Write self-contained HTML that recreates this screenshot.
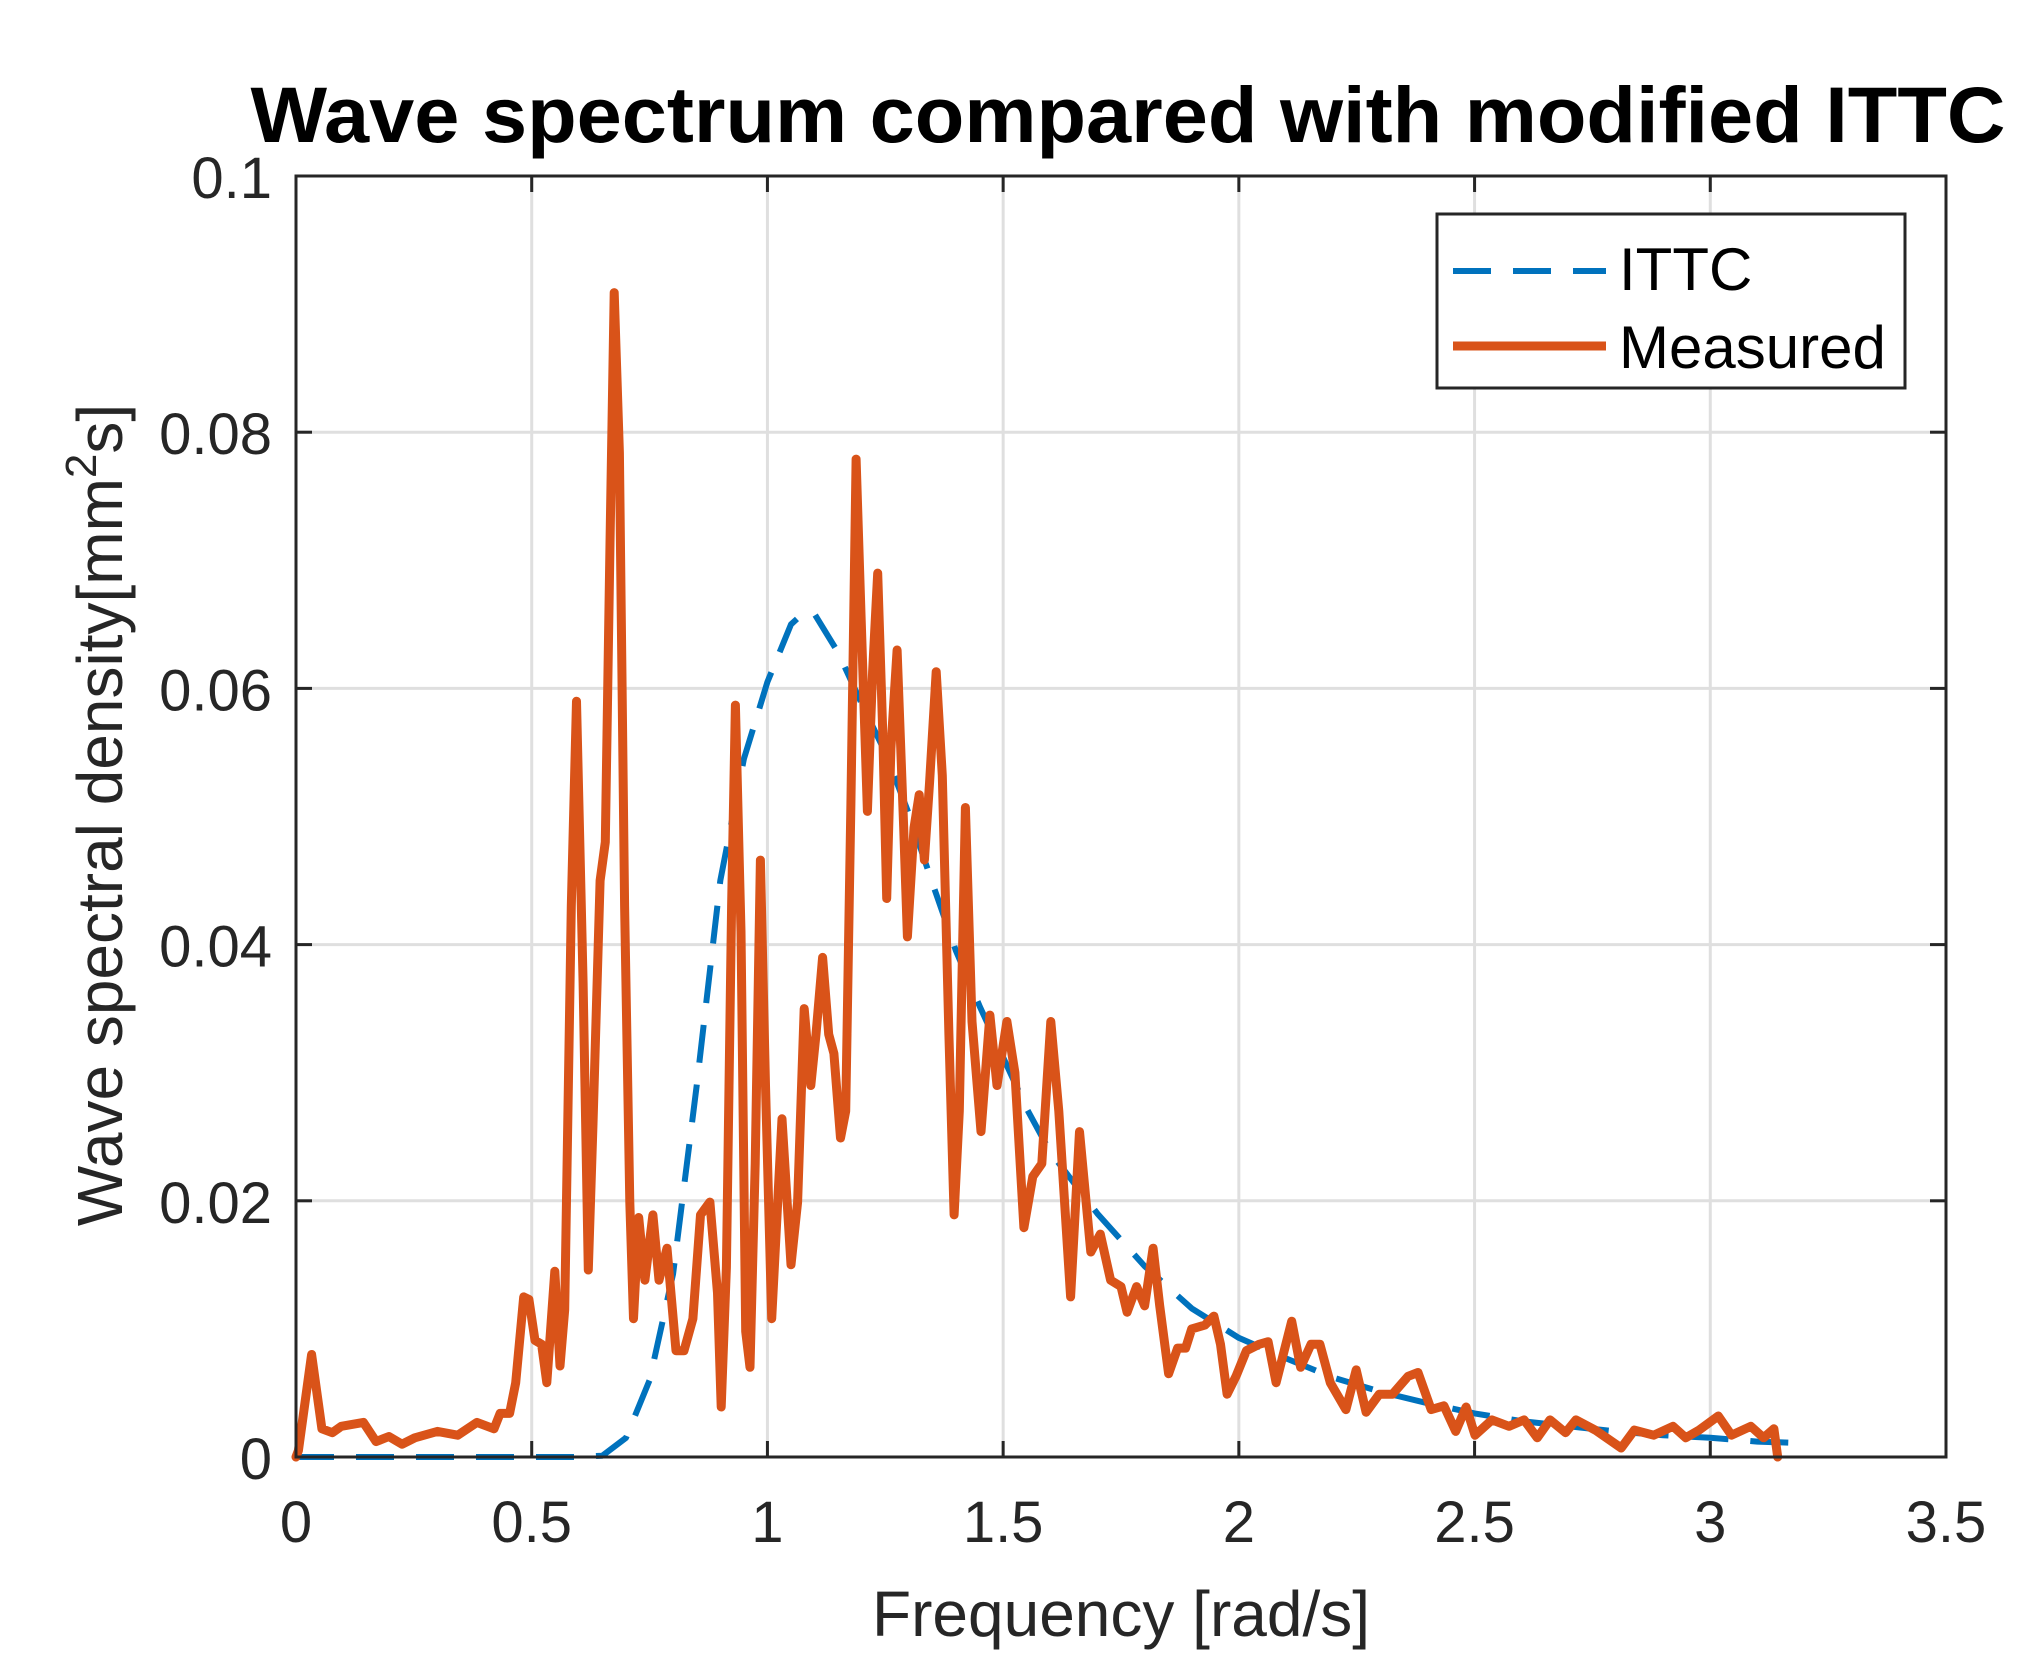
<!DOCTYPE html>
<html><head><meta charset="utf-8"><style>
html,body{margin:0;padding:0;background:#fff;}
svg{display:block;font-family:"Liberation Sans",sans-serif;}
</style></head><body>
<svg id="chart" width="2026" height="1677" viewBox="0 0 2026 1677" xmlns="http://www.w3.org/2000/svg">
<rect x="0" y="0" width="2026" height="1677" fill="#fff"/>
<g id="grid"></g>
<g id="series"></g>
<g id="axes"></g>
<text x="1128" y="142" text-anchor="middle" font-size="79" font-weight="bold" fill="#000" textLength="1755" lengthAdjust="spacingAndGlyphs">Wave spectrum compared with modified ITTC</text>
<text x="1121" y="1636" text-anchor="middle" font-size="64" fill="#262626">Frequency [rad/s]</text>
<text transform="translate(122,815) rotate(-90)" text-anchor="middle" font-size="64" fill="#262626">Wave spectral density[mm<tspan font-size="44" dy="-26">2</tspan><tspan dy="26">s]</tspan></text>
<g>
<rect x="1437" y="214" width="468" height="174" fill="#fff" stroke="#262626" stroke-width="3"/>
<line x1="1453" y1="271" x2="1606" y2="271" stroke="#0072BD" stroke-width="6" stroke-dasharray="38,22"/>
<text x="1619" y="290" font-size="60" fill="#000">ITTC</text>
<line x1="1453" y1="346" x2="1606" y2="346" stroke="#D95319" stroke-width="9"/>
<text x="1619" y="368" font-size="60" fill="#000">Measured</text>
</g>
</svg>
<script>
const xTicks=[0,0.5,1,1.5,2,2.5,3,3.5];
const xTickLabels=["0","0.5","1","1.5","2","2.5","3","3.5"];
const yTicks=[0,0.02,0.04,0.06,0.08,0.1];
const yTickLabels=["0","0.02","0.04","0.06","0.08","0.1"];
const ittcFreq=[0,0.6,0.65,0.7,0.75,0.8,0.85,0.9,0.95,1.0,1.05,1.08,1.1,1.15,1.2,1.25,1.3,1.35,1.4,1.45,1.5,1.55,1.6,1.7,1.8,1.9,2.0,2.1,2.2,2.3,2.4,2.5,2.6,2.7,2.8,2.9,3.0,3.1,3.18];
const ittcValue=[0,0,0.0001,0.0015,0.006,0.0143,0.029,0.045,0.0545,0.0605,0.065,0.066,0.0658,0.0628,0.0588,0.055,0.0502,0.0448,0.0395,0.0352,0.0312,0.0272,0.0238,0.019,0.0149,0.0116,0.0093,0.0077,0.0062,0.0051,0.0042,0.0034,0.0028,0.0024,0.002,0.0017,0.0015,0.0012,0.0011];
const measFreq=[0,0.005,0.033,0.055,0.077,0.096,0.143,0.17,0.197,0.225,0.252,0.30,0.343,0.384,0.42,0.433,0.453,0.466,0.483,0.494,0.507,0.521,0.532,0.549,0.56,0.57,0.584,0.595,0.609,0.62,0.63,0.645,0.656,0.666,0.675,0.686,0.697,0.708,0.716,0.727,0.74,0.757,0.77,0.787,0.806,0.823,0.842,0.858,0.878,0.894,0.902,0.913,0.924,0.932,0.944,0.954,0.963,0.974,0.985,0.996,1.009,1.031,1.05,1.064,1.078,1.092,1.103,1.117,1.13,1.141,1.155,1.166,1.177,1.188,1.199,1.212,1.223,1.234,1.245,1.253,1.262,1.275,1.289,1.297,1.311,1.322,1.333,1.344,1.358,1.371,1.385,1.396,1.407,1.42,1.434,1.453,1.472,1.487,1.508,1.525,1.544,1.563,1.582,1.601,1.618,1.643,1.662,1.686,1.706,1.728,1.75,1.763,1.783,1.8,1.818,1.832,1.851,1.87,1.887,1.9,1.928,1.947,1.961,1.975,1.994,2.016,2.043,2.062,2.079,2.112,2.131,2.153,2.172,2.194,2.227,2.249,2.27,2.298,2.326,2.359,2.38,2.408,2.435,2.46,2.482,2.501,2.537,2.573,2.605,2.633,2.66,2.693,2.715,2.756,2.811,2.839,2.88,2.921,2.948,2.976,3.017,3.045,3.086,3.113,3.135,3.143];
const measValue=[0,0.0005,0.008,0.0022,0.0019,0.0024,0.0027,0.0012,0.0016,0.001,0.0015,0.002,0.0017,0.0027,0.0022,0.0034,0.0034,0.0058,0.0125,0.0123,0.0091,0.0088,0.0058,0.0145,0.0071,0.0115,0.043,0.059,0.037,0.0146,0.026,0.045,0.048,0.0713,0.0909,0.0784,0.043,0.0199,0.0108,0.0187,0.0138,0.0189,0.0138,0.0163,0.0083,0.0083,0.0108,0.0189,0.0199,0.0128,0.0039,0.0148,0.043,0.0587,0.041,0.0098,0.007,0.0229,0.0466,0.029,0.0108,0.0264,0.015,0.0199,0.035,0.029,0.033,0.039,0.033,0.0315,0.0249,0.027,0.051,0.0779,0.0653,0.0504,0.0613,0.069,0.0562,0.0436,0.0553,0.063,0.0491,0.0406,0.0491,0.0517,0.0466,0.0527,0.0613,0.0532,0.033,0.0189,0.027,0.0507,0.034,0.0254,0.0345,0.029,0.034,0.030,0.0179,0.0219,0.0229,0.034,0.027,0.0125,0.0254,0.016,0.0174,0.0138,0.0133,0.0113,0.0133,0.0118,0.0163,0.0118,0.0065,0.0085,0.0085,0.01,0.0103,0.011,0.0088,0.0049,0.0063,0.0083,0.0088,0.009,0.0058,0.0106,0.007,0.0088,0.0088,0.0058,0.0037,0.0068,0.0035,0.0049,0.0049,0.0063,0.0066,0.0037,0.004,0.002,0.0039,0.0017,0.0029,0.0024,0.0029,0.0015,0.0029,0.0019,0.0029,0.0021,0.0007,0.0021,0.0017,0.0024,0.0015,0.0021,0.0032,0.0017,0.0024,0.0015,0.0022,0];

const X0=296,X1=1946,Y0=1457,Y1=176;
const xMin=0,xMax=3.5,yMin=0,yMax=0.1;
function sx(v){return X0+(v-xMin)/(xMax-xMin)*(X1-X0);}
function sy(v){return Y0-(v-yMin)/(yMax-yMin)*(Y0-Y1);}
const NS="http://www.w3.org/2000/svg";
function mk(tag,attrs,parent){const e=document.createElementNS(NS,tag);for(const k in attrs)e.setAttribute(k,attrs[k]);parent.appendChild(e);return e;}
const grid=document.getElementById('grid'),axes=document.getElementById('axes'),series=document.getElementById('series');
xTicks.forEach((t,i)=>{
  const g=mk('line',{x1:sx(t),x2:sx(t),y1:Y1,y2:Y0,stroke:'#dfdfdf','stroke-width':3},grid);
  
  
  const tk=mk('line',{x1:sx(t),x2:sx(t),y1:Y0,y2:Y0-16,stroke:'#262626','stroke-width':3},axes);
  
  
  const tk2=mk('line',{x1:sx(t),x2:sx(t),y1:Y1,y2:Y1+16,stroke:'#262626','stroke-width':3},axes);
  
  
  const tl=mk('text',{x:sx(t),y:Y0+85,'text-anchor':'middle','font-size':58,fill:'#262626'},axes);
  tl.textContent=xTickLabels[i];
  
  
});
yTicks.forEach((t,i)=>{
  const g=mk('line',{x1:X0,x2:X1,y1:sy(t),y2:sy(t),stroke:'#dfdfdf','stroke-width':3},grid);
  
  
  const tk=mk('line',{x1:X0,x2:X0+16,y1:sy(t),y2:sy(t),stroke:'#262626','stroke-width':3},axes);
  
  
  const tk2=mk('line',{x1:X1,x2:X1-16,y1:sy(t),y2:sy(t),stroke:'#262626','stroke-width':3},axes);
  
  
  const tl=mk('text',{x:X0-24,y:sy(t)+22,'text-anchor':'end','font-size':58,fill:'#262626'},axes);
  tl.textContent=yTickLabels[i];
  
  
});
const box=mk('rect',{x:X0,y:Y1,width:X1-X0,height:Y0-Y1,fill:'none',stroke:'#262626','stroke-width':3},axes);


const ip=ittcFreq.map((f,i)=>sx(f).toFixed(1)+','+sy(ittcValue[i]).toFixed(1)).join(' ');
const il=mk('polyline',{points:ip,fill:'none',stroke:'#0072BD','stroke-width':6,'stroke-dasharray':'38,22','stroke-linejoin':'round'},series);


const mp=measFreq.map((f,i)=>sx(f).toFixed(1)+','+sy(measValue[i]).toFixed(1)).join(' ');
const ml=mk('polyline',{points:mp,fill:'none',stroke:'#D95319','stroke-width':9,'stroke-linejoin':'round','stroke-linecap':'round'},series);


</script>
</body></html>
